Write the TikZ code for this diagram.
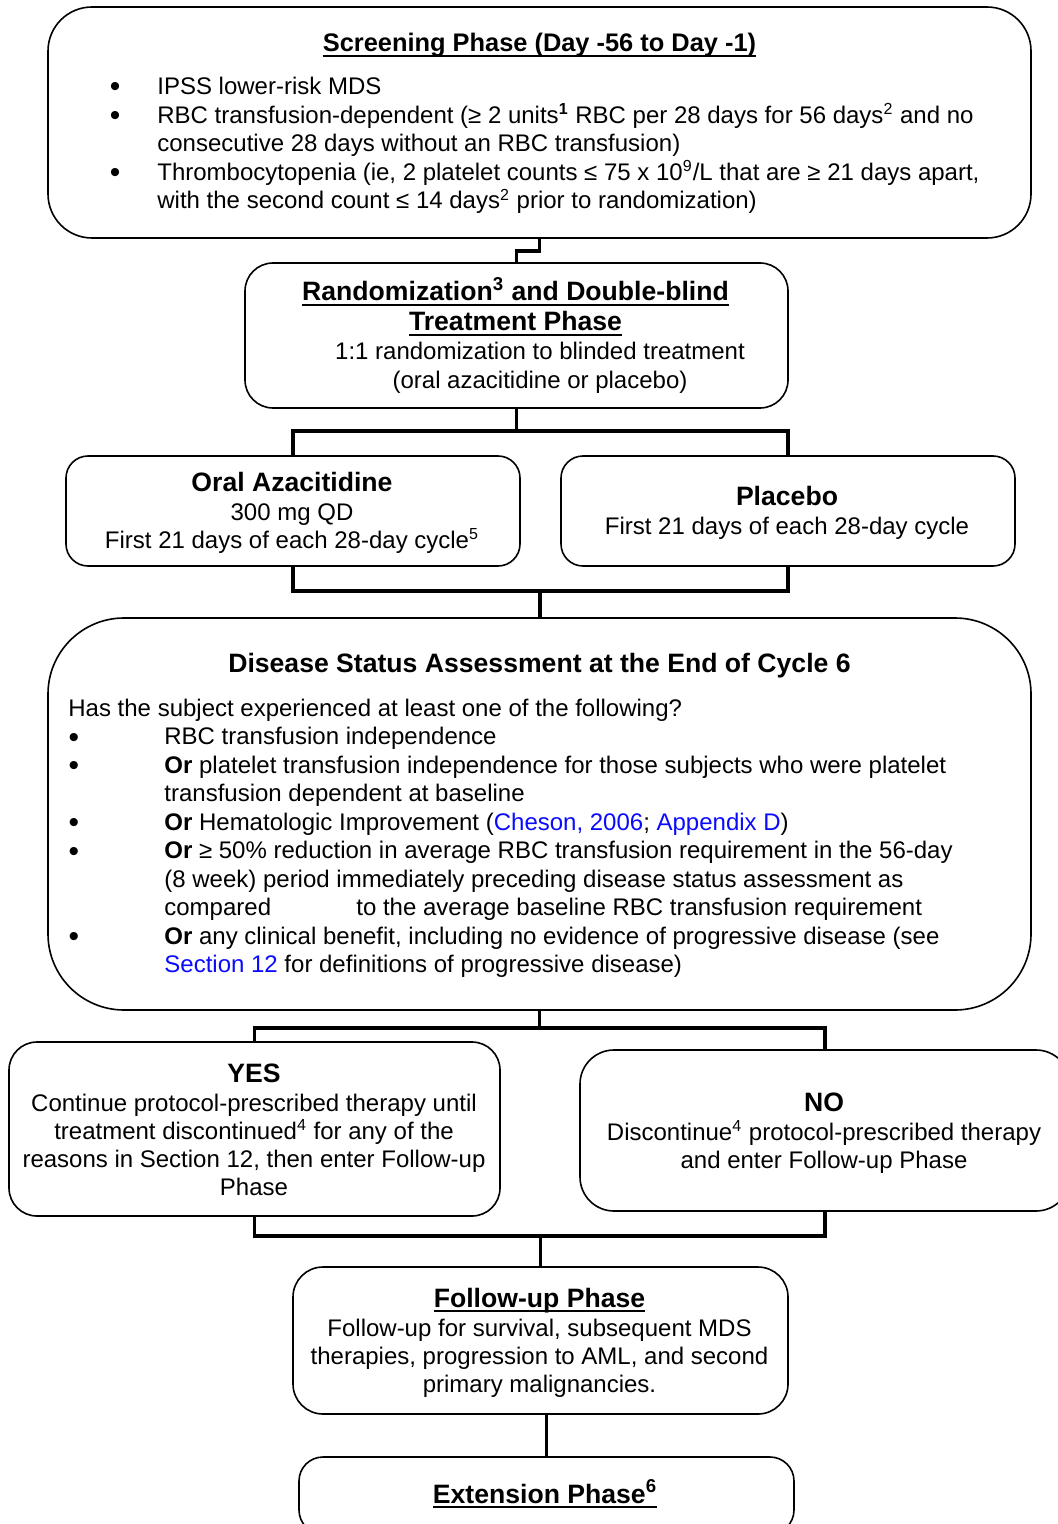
\documentclass[tikz,border=0pt]{standalone}
\usepackage{fontspec}
\setmainfont{Liberation Sans}
\definecolor{linkblue}{RGB}{10,10,255}
\newcommand\myul[1]{{\setbox0\hbox{#1}\rlap{\vrule height -1.4pt depth 2.4pt width \wd0}\box0}}
\newcommand\lnk[1]{\textcolor{linkblue}{#1}}
\begin{document}
\begin{tikzpicture}[x=0.5pt,y=-0.5pt,
  box/.style={draw, line width=0.8pt, inner sep=0pt, outer sep=0pt},
  conn/.style={draw, line width=1.8pt, line join=miter},
  txt/.style={anchor=base, inner sep=0pt, font=\fontsize{12}{14.25}\selectfont},
  ltxt/.style={txt, anchor=base west},
  bul/.style={anchor=center, inner sep=0pt, font=\fontsize{15}{15}\selectfont},
  ttl/.style={anchor=base, inner sep=0pt, font=\fontsize{13.3}{15}\selectfont\bfseries}]
\useasboundingbox (0,0) rectangle (1057,1524);

% boxes
\node[box, rounded corners=22pt, minimum width=491.5pt, minimum height=115.5pt] (scr) at (539.5,122.5) {};
\node[box, rounded corners=14pt, minimum width=271.5pt, minimum height=72.5pt] (rand) at (516.5,335.5) {};
\node[box, rounded corners=11pt, minimum width=227pt, minimum height=55pt] (oral) at (293,511) {};
\node[box, rounded corners=11pt, minimum width=227pt, minimum height=55pt] (plac) at (788,511) {};
\node[box, rounded corners=38pt, minimum width=491.5pt, minimum height=196pt] (dis) at (539.5,814) {};
\node[box, rounded corners=14pt, minimum width=245.5pt, minimum height=87pt] (yes) at (254.5,1129) {};
\node[box, rounded corners=17pt, minimum width=245pt, minimum height=80.5pt] (no) at (825,1130.5) {};
\node[box, rounded corners=15pt, minimum width=247.5pt, minimum height=73.5pt] (fol) at (540.5,1340.5) {};
\node[box, rounded corners=12pt, minimum width=247.5pt, minimum height=38.5pt] (ext) at (546.5,1495.5) {};

% junctions
\coordinate (j1) at (516.5,431);
\coordinate (j2) at (540,591);
\coordinate (j3) at (539.5,1028);
\coordinate (j4) at (540.5,1236);

% connectors
\draw[conn] (scr.south) -- ++(0,13) -| (rand.north);
\draw[conn] (rand.south) -- (j1);
\draw[conn] (oral.north) |- (j1) -| (plac.north);
\draw[conn] (oral.south) |- (j2) -| (plac.south);
\draw[conn] (j2) -- (j2 |- dis.north);
\draw[conn] (dis.south) -- (j3);
\draw[conn] (yes.north) |- (j3) -| (no.north);
\draw[conn] (yes.south) |- (j4) -| (no.south);
\draw[conn] (j4) -- (fol.north);
\draw[conn] (ext.north) -- (ext.north |- fol.south);

% screening text
\node[ttl, font=\fontsize{12.7}{15}\selectfont\bfseries] (scrT) at (539.5,52) {\myul{Screening Phase (Day -56 to Day -1)}};
\node[bul] (sb1) at (115,90) {•};
\node[bul] (sb2) at (115,118.5) {•};
\node[bul] (sb3) at (115,175.5) {•};
\node[ltxt] (s1) at (157,95) {IPSS lower-risk MDS};
\node[ltxt] (s2) at (157,123.5) {RBC transfusion-dependent (≥ 2 units\textsuperscript{\textbf{1}} RBC per 28 days for 56 days\textsuperscript{2} and no};
\node[ltxt] (s3) at (157,152) {consecutive 28 days without an RBC transfusion)};
\node[ltxt] (s4) at (157,180.5) {Thrombocytopenia (ie, 2 platelet counts ≤ 75 x 10\textsuperscript{9}/L that are ≥ 21 days apart,};
\node[ltxt] (s5) at (157,209) {with the second count ≤ 14 days\textsuperscript{2} prior to randomization)};

% randomization text
\node[ttl] (rT1) at (515.5,301) {\myul{Randomization\textsuperscript{3} and Double-blind}};
\node[ttl] (rT2) at (515.5,331) {\myul{Treatment Phase}};
\node[txt] (r1) at (540,359) {1:1 randomization to blinded treatment};
\node[txt] (r2) at (540,388) {(oral azacitidine or placebo)};

% arms
\node[ttl] (oT) at (292,491) {Oral Azacitidine};
\node[txt] (o1) at (292,520) {300 mg QD};
\node[txt] (o2) at (292,548.5) {First 21 days of each 28-day cycle\textsuperscript{5}};
\node[ttl] (pT) at (787,505) {Placebo};
\node[txt] (p1) at (787,534) {First 21 days of each 28-day cycle};

% disease status text
\node[ttl] (dT) at (539.5,672) {Disease Status Assessment at the End of Cycle 6};
\node[ltxt] (d0) at (68,716) {Has the subject experienced at least one of the following?};
\node[bul] (db1) at (74,740) {•};
\node[bul] (db2) at (74,768.5) {•};
\node[bul] (db3) at (74,825.5) {•};
\node[bul] (db4) at (74,854) {•};
\node[bul] (db5) at (74,939.5) {•};
\node[ltxt] (d1) at (164,744.5) {RBC transfusion independence};
\node[ltxt] (d2) at (164,773) {\textbf{Or} platelet transfusion independence for those subjects who were platelet};
\node[ltxt] (d3) at (164,801.5) {transfusion dependent at baseline};
\node[ltxt] (d4) at (164,830) {\textbf{Or} Hematologic Improvement (\lnk{Cheson, 2006}; \lnk{Appendix D})};
\node[ltxt] (d5) at (164,858.5) {\textbf{Or} ≥ 50\% reduction in average RBC transfusion requirement in the 56-day};
\node[ltxt] (d6) at (164,887) {(8 week) period immediately preceding disease status assessment as};
\node[ltxt] (d7) at (164,915.5) {\makebox[96pt][l]{compared}to the average baseline RBC transfusion requirement};
\node[ltxt] (d8) at (164,944) {\textbf{Or} any clinical benefit, including no evidence of progressive disease (see};
\node[ltxt] (d9) at (164,972.5) {\lnk{Section 12} for definitions of progressive disease)};

% yes / no
\node[ttl] (yT) at (254,1082) {YES};
\node[txt] (y1) at (254,1111) {Continue protocol-prescribed therapy until};
\node[txt] (y2) at (254,1139) {treatment discontinued\textsuperscript{4} for any of the};
\node[txt] (y3) at (254,1167) {reasons in Section 12, then enter Follow-up};
\node[txt] (y4) at (254,1195) {Phase};
\node[ttl] (nT) at (824,1111) {NO};
\node[txt] (n1) at (824,1140) {Discontinue\textsuperscript{4} protocol-prescribed therapy};
\node[txt] (n2) at (824,1168) {and enter Follow-up Phase};

% follow-up
\node[ttl] (fT) at (539.5,1307) {\myul{Follow-up Phase}};
\node[txt] (f1) at (539.5,1336) {Follow-up for survival, subsequent MDS};
\node[txt] (f2) at (539.5,1364) {therapies, progression to AML, and second};
\node[txt] (f3) at (539.5,1392) {primary malignancies.};

% extension
\node[ttl] (eT) at (545,1503) {\myul{Extension Phase\textsuperscript{6}}};
\end{tikzpicture}
\end{document}
